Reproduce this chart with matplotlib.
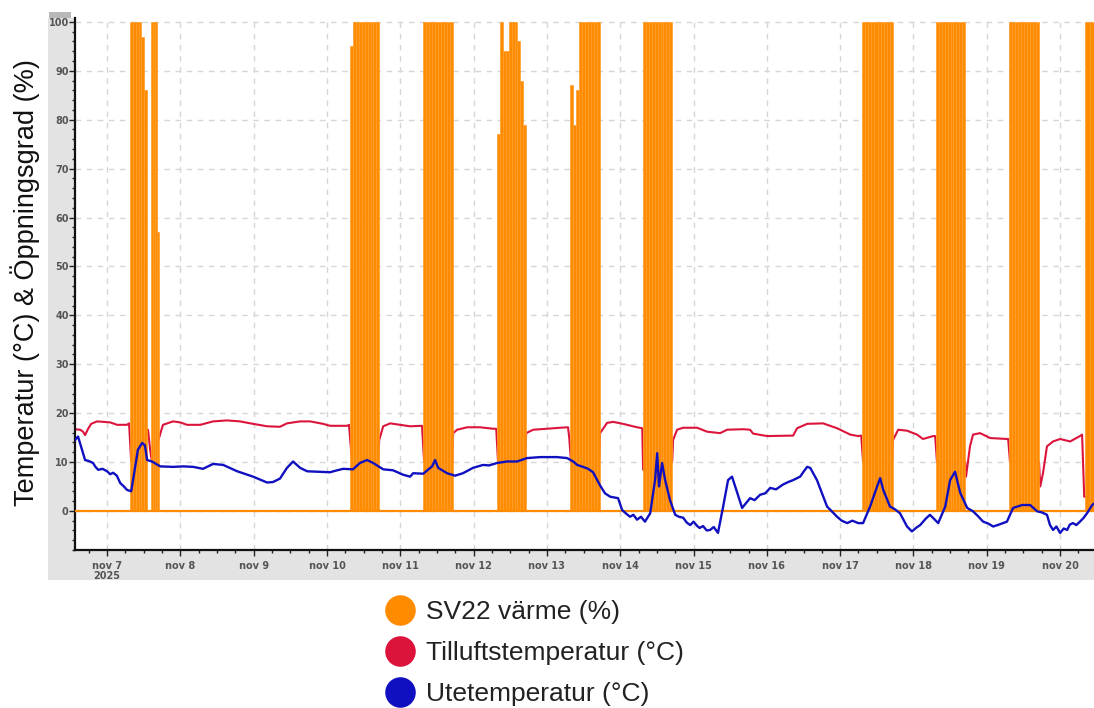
import matplotlib
matplotlib.use("Agg")
import matplotlib.pyplot as plt
from matplotlib.patches import Rectangle
from matplotlib.lines import Line2D
from matplotlib.ticker import MultipleLocator

# ---------------- data (time in hours from 2025-11-07 00:00) ----------------
day_ticks = [0, 24, 48, 72, 96, 120, 144, 168, 192, 216, 240, 264, 288, 312]
day_labels = ["nov 7\n2025", "nov 8", "nov 9", "nov 10", "nov 11", "nov 12", "nov 13",
              "nov 14", "nov 15", "nov 16", "nov 17", "nov 18", "nov 19", "nov 20"]
y_ticks = [0, 10, 20, 30, 40, 50, 60, 70, 80, 90, 100]

# SV22 värme (%): heating periods (start, end) in hours and peaks of the on/off pulses
sv22_start = -10.5
sv22_end = 326.0
sv22_blocks = [(7.5, 13.1), (14.4, 17.0), (79.6, 89.1), (103.5, 113.3), (127.7, 137.2),
               (151.6, 161.4), (175.5, 185.0), (247.2, 257.3), (271.4, 280.9),
               (295.3, 305.1), (320.2, 326.0)]
sv22_pulses = [
    [100, 100, 100, 100, 97, 86],
    [100, 100, 100, 57],
    [95, 100, 100, 100, 100, 100, 100, 100, 100, 100],
    [100, 100, 100, 100, 100, 100, 100, 100, 100, 100],
    [77, 100, 94, 94, 100, 100, 100, 96, 88, 79],
    [87, 79, 86, 100, 100, 100, 100, 100, 100, 100],
    [100, 100, 100, 100, 100, 100, 100, 100, 100, 100],
    [100, 100, 100, 100, 100, 100, 100, 100, 100, 100],
    [100, 100, 100, 100, 100, 100, 100, 100, 100, 100],
    [100, 100, 100, 100, 100, 100, 100, 100, 100, 100],
    [100, 100, 100, 100],
]

# Tilluftstemperatur (°C)
tilluft_t = [-10.5, -8.8, -7.9, -7.2, -6.2, -5.2, -3.3, 1.0, 3.3, 6.5, 7.2, 7.9, 12.8, 13.4,
             14.1, 14.7, 17.0, 18.3, 21.6, 23.9, 26.2, 30.5, 34.7, 39.3, 43.5, 47.8, 52.4,
             56.6, 58.9, 63.2, 66.5, 70.7, 73.0, 78.6, 79.2, 80.2, 88.7, 89.1, 90.4, 92.7,
             95.9, 99.2, 103.1, 103.8, 113.0, 113.3, 114.6, 117.9, 122.1, 126.4, 127.4,
             128.0, 136.9, 137.2, 139.5, 144.1, 148.3, 150.9, 151.3, 151.9, 161.1, 161.4,
             163.7, 165.7, 168.9, 173.5, 175.2, 175.5, 185.0, 185.3, 186.6, 188.6, 193.2,
             196.4, 200.7, 203.0, 208.2, 210.5, 211.5, 216.1, 224.6, 225.9, 229.2, 234.4,
             239.0, 243.3, 245.9, 246.9, 247.5, 257.0, 257.3, 259.0, 261.9, 265.2, 267.1,
             270.4, 271.1, 271.7, 280.9, 281.2, 282.5, 283.5, 285.8, 289.1, 294.6, 295.0,
             295.6, 305.1, 305.5, 306.4, 307.7, 309.7, 312.0, 315.3, 318.5, 319.2, 319.9,
             320.5, 323.2]
tilluft_v = [16.7, 16.6, 16.2, 15.5, 16.8, 17.8, 18.3, 18.1, 17.6, 17.6, 17.9, 10.0, 15.5,
             16.6, 12.5, 10.0, 14.9, 17.6, 18.3, 18.1, 17.6, 17.6, 18.3, 18.5, 18.3, 17.8,
             17.3, 17.2, 17.9, 18.3, 18.3, 17.8, 17.4, 17.4, 17.6, 10.0, 10.0, 14.5, 17.3,
             17.9, 17.6, 17.3, 17.4, 10.0, 10.0, 15.9, 16.6, 17.1, 17.1, 16.8, 16.8, 10.0,
             10.0, 15.9, 16.6, 16.8, 17.0, 17.1, 15.0, 10.0, 10.0, 15.9, 18.0, 18.2, 17.8,
             17.1, 16.9, 8.4, 10.0, 14.5, 16.6, 17.0, 17.0, 16.2, 15.9, 16.6, 16.7, 16.6,
             15.8, 15.3, 15.4, 16.9, 17.8, 17.9, 16.9, 15.6, 15.3, 15.4, 10.0, 10.0, 14.5,
             16.6, 16.4, 15.6, 14.7, 15.3, 15.3, 10.0, 10.0, 7.0, 13.2, 15.6, 15.9, 14.9,
             14.7, 14.7, 10.0, 10.0, 5.0, 7.7, 13.2, 14.2, 14.7, 14.2, 15.3, 15.6, 2.9, 2.9,
             2.9]

# Utetemperatur (°C)
ute_t = [-10.5, -9.5, -8.2, -7.2, -6.0, -4.6, -3.8, -2.9, -1.5, 0.0, 1.0, 2.0, 3.2, 4.3, 5.5,
         6.5, 7.9, 9.2, 10.1, 11.5, 12.4, 13.1, 14.7, 17.4, 21.6, 25.0, 28.2, 31.4, 34.7, 38.0,
         42.6, 47.8, 52.4, 54.3, 56.6, 58.9, 60.9, 63.2, 65.5, 69.7, 73.0, 75.3, 77.3, 80.5,
         82.8, 85.1, 87.1, 90.4, 93.6, 96.9, 99.2, 100.2, 103.5, 106.4, 107.4, 108.4, 111.3,
         113.9, 116.5, 119.8, 123.1, 125.0, 127.7, 130.9, 134.2, 137.5, 141.8, 147.3, 150.6,
         152.6, 153.9, 155.8, 157.5, 159.1, 161.4, 163.0, 164.7, 167.3, 168.6, 170.0, 171.2,
         172.3, 173.5, 174.8, 176.1, 177.8, 179.4, 180.1, 180.7, 181.7, 182.7, 184.3, 186.0,
         187.2, 188.6, 189.8, 190.9, 192.0, 193.2, 194.0, 195.1, 196.3, 197.4, 198.6, 200.0,
         201.7, 203.3, 204.6, 206.3, 207.9, 210.5, 212.0, 213.8, 215.5, 217.1, 219.0, 221.3,
         223.0, 224.6, 226.9, 228.0, 229.2, 230.2, 232.4, 235.7, 239.0, 240.5, 242.3, 244.0,
         245.9, 247.5, 249.8, 252.1, 253.1, 254.1, 256.3, 258.0, 259.6, 261.9, 263.5, 265.0,
         266.2, 268.0, 269.4, 272.1, 274.4, 276.0, 277.6, 279.3, 281.6, 283.5, 285.0, 286.8,
         288.5, 290.1, 292.0, 294.6, 296.6, 299.6, 302.2, 304.5, 306.0, 307.7, 308.7, 309.7,
         310.8, 312.0, 313.2, 314.3, 315.2, 316.2, 317.3, 318.5, 319.6, 320.8, 322.5, 323.2]
ute_v = [14.5, 15.2, 12.5, 10.4, 10.2, 9.8, 9.0, 8.4, 8.6, 8.1, 7.5, 7.8, 7.2, 5.7, 5.0, 4.3,
         4.0, 9.1, 12.5, 13.9, 13.4, 10.4, 10.1, 9.1, 9.0, 9.1, 9.0, 8.6, 9.6, 9.4, 8.1, 7.0,
         5.8, 5.9, 6.6, 8.8, 10.1, 8.8, 8.1, 8.0, 7.9, 8.3, 8.6, 8.5, 9.8, 10.4, 9.8, 8.5, 8.3,
         7.4, 7.0, 7.7, 7.6, 9.1, 10.4, 8.8, 7.7, 7.2, 7.7, 8.8, 9.4, 9.3, 9.8, 10.1, 10.1,
         10.8, 11.0, 11.0, 10.8, 10.1, 9.4, 9.0, 8.6, 7.9, 5.2, 3.6, 2.9, 2.6, 0.2, -0.6, -1.2,
         -0.8, -1.8, -1.2, -2.2, -0.5, 6.3, 11.8, 5.0, 9.8, 6.3, 2.2, -0.8, -1.2, -1.4, -2.4,
         -2.9, -2.2, -3.1, -3.5, -3.1, -4.0, -3.9, -3.3, -4.5, 0.9, 6.3, 7.0, 3.7, 0.6, 2.6, 2.2,
         3.3, 3.6, 4.7, 4.4, 5.4, 5.9, 6.3, 7.0, 8.0, 9.0, 8.8, 6.3, 0.9, -1.2, -2.0, -2.5,
         -2.0, -2.5, -2.5, 0.9, 5.0, 6.7, 4.3, 0.9, 0.3, -0.5, -3.2, -4.2, -3.4, -2.9, -1.6,
         -0.8, -2.5, 0.9, 6.3, 8.0, 3.7, 0.6, -0.1, -1.0, -2.2, -2.6, -3.2, -2.8, -2.2, 0.6,
         1.2, 1.2, -0.1, -0.3, -0.8, -2.9, -3.9, -3.2, -4.5, -3.6, -3.9, -2.8, -2.5, -2.9,
         -2.2, -1.5, -0.5, 1.2, 1.5]

series_labels = ["SV22 värme (%)", "Tilluftstemperatur (°C)", "Utetemperatur (°C)"]
ylabel_text = "Temperatur (°C) & Öppningsgrad (%)"

# ---------------- styling ----------------
C_ORANGE = "#FF8C00"
C_ORANGE_EDGE = "#FF9D2A"
C_RED = "#DC143C"
C_BLUE = "#1010C0"
W, H = 1094, 708

fig = plt.figure(figsize=(W / 100, H / 100), dpi=100)
fig.add_artist(Rectangle((48 / W, 1 - 580 / H), (W - 48) / W, (580 - 18) / H,
                         transform=fig.transFigure, facecolor="#e3e3e3", edgecolor="none", zorder=-2))
fig.add_artist(Rectangle((49 / W, 1 - 18 / H), 22 / W, 6 / H,
                         transform=fig.transFigure, facecolor="#b8b8b8", edgecolor="none", zorder=-1))

ax = fig.add_axes([75 / W, 1 - 550 / H, (W - 75) / W, (550 - 18) / H])
ax.set_facecolor("white")
ax.set_xlim(-10.5, 323.1)
ax.set_ylim(-8, 100.8)

# grid
ax.grid(True, which="major", color="#d6d6d6", linestyle=(0, (4, 4)), linewidth=1.0, zorder=0.5)
ax.set_axisbelow(True)

# Tilluft (under the orange)
ax.plot(tilluft_t, tilluft_v, color=C_RED, lw=1.5, zorder=2)

# SV22 pulses
for (s, e), peaks in zip(sv22_blocks, sv22_pulses):
    n = len(peaks)
    w = (e - s) / n
    centers = [s + w * (i + 0.5) for i in range(n)]
    ax.bar(centers, peaks, width=w, color=C_ORANGE, edgecolor=C_ORANGE_EDGE,
           linewidth=0.5, zorder=3)
ax.plot([sv22_start, sv22_end], [0, 0], color=C_ORANGE, lw=1.6, zorder=3)

# Ute (on top)
ax.plot(ute_t, ute_v, color=C_BLUE, lw=1.7, zorder=4)

# axes decorations
for side in ("top", "right"):
    ax.spines[side].set_visible(False)
for side in ("left", "bottom"):
    ax.spines[side].set_color("#111111")
    ax.spines[side].set_linewidth(1.6)

ax.set_yticks(y_ticks)
ax.set_yticklabels([str(v) for v in y_ticks])
ax.yaxis.set_minor_locator(MultipleLocator(2))
ax.set_xticks(day_ticks)
ax.set_xticklabels(day_labels)
ax.xaxis.set_minor_locator(MultipleLocator(6))
ax.tick_params(axis="both", which="major", direction="out", length=4, width=1,
               color="#222222", labelcolor="#555555", labelsize=7)
ax.tick_params(axis="both", which="minor", direction="out", length=2.5, width=1, color="#222222")
ax.tick_params(axis="y", pad=0.5)
ax.tick_params(axis="x", pad=4)
for lab in ax.get_xticklabels() + ax.get_yticklabels():
    lab.set_fontweight("bold")
    lab.set_linespacing(0.95)

# cover below gray panel (clips the "2025" line like the original)
fig.add_artist(Rectangle((48 / W, 0), (W - 48) / W, (H - 580) / H,
                         transform=fig.transFigure, facecolor="white", edgecolor="none", zorder=1))

fig.text(25 / W, 1 - 283 / H, ylabel_text, rotation=90, ha="center", va="center",
         fontsize=19.5, family="Liberation Sans", color="#111111", zorder=3)

handles = [Line2D([], [], marker="o", linestyle="none", markersize=22, color=c, markeredgewidth=0)
           for c in (C_ORANGE, C_RED, C_BLUE)]
leg = fig.legend(handles, series_labels, loc="upper left", bbox_to_anchor=(387 / W, 1 - 600 / H),
                 frameon=False, prop={"family": "Liberation Sans", "size": 19},
                 handlelength=1.0, handletextpad=0.48, labelspacing=0.64,
                 borderpad=0, borderaxespad=0)
leg.set_zorder(5)
for t in leg.get_texts():
    t.set_color("#222222")

fig.savefig("out.png", dpi=100)
